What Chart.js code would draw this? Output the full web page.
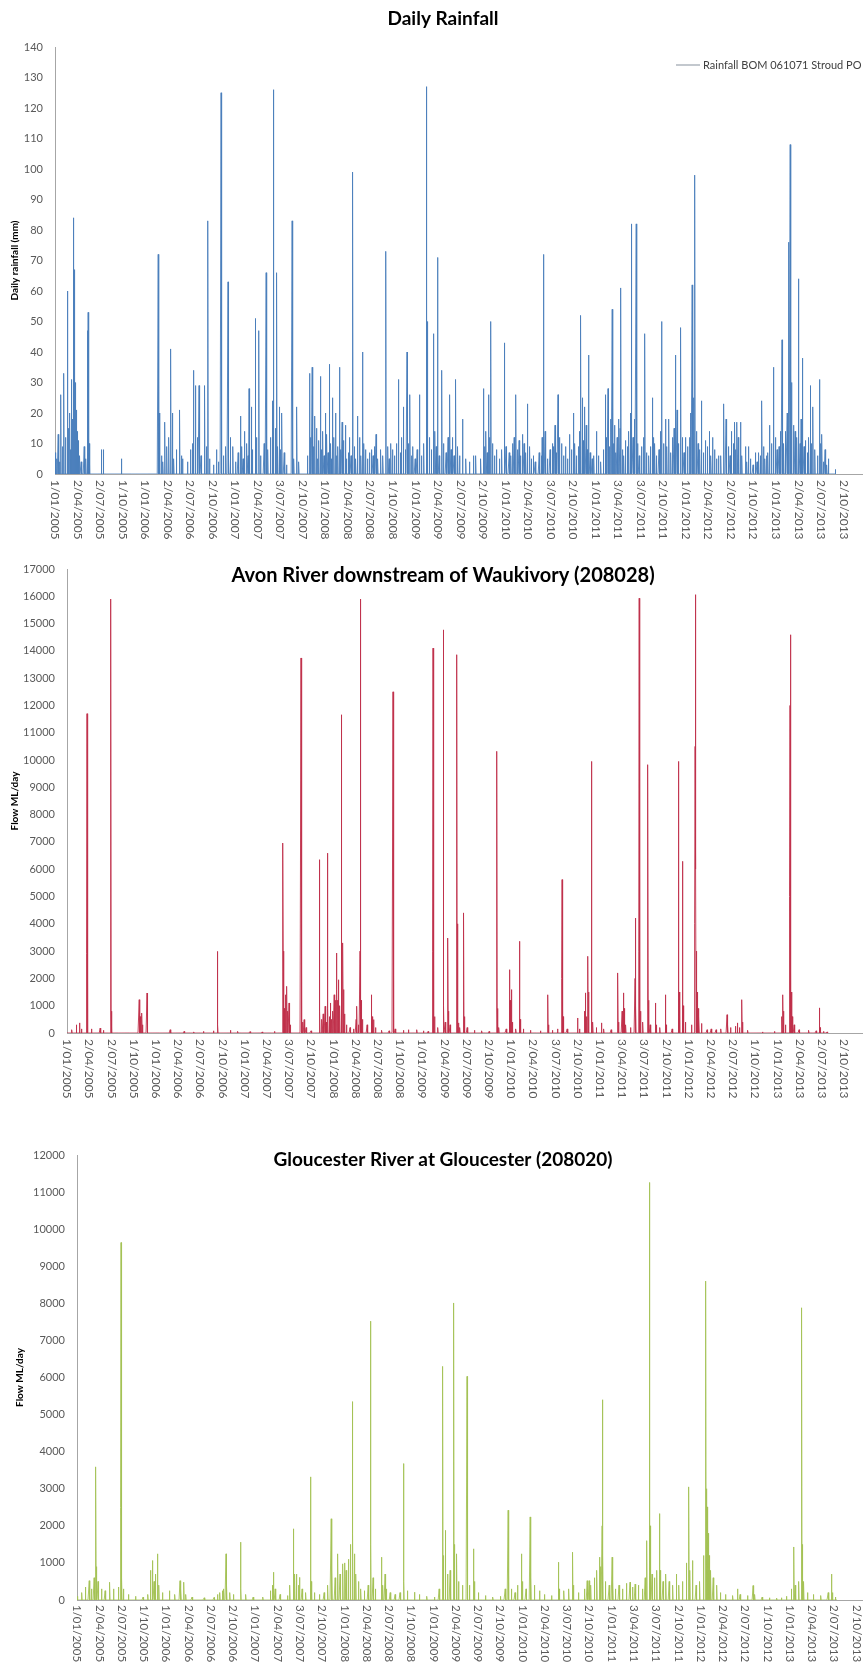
<!DOCTYPE html>
<html>
<head>
<meta charset="utf-8">
<script src="https://cdn.jsdelivr.net/npm/chart.js@4/dist/chart.umd.min.js"></script>
<style>
  html, body { margin: 0; padding: 0; background: #fff; }
  .box { position: absolute; left: 0; }
</style>
</head>
<body>
<div class="box" style="top:0"><canvas id="rainChart" width="865" height="550"></canvas></div>
<div class="box" style="top:550px"><canvas id="avonChart" width="865" height="560"></canvas></div>
<div class="box" style="top:1110px"><canvas id="glouChart" width="865" height="552"></canvas></div>
<script>
// axis labels, one every 91 days from 1/01/2005 (day 0)
const tickLabels = ['1/01/2005','2/04/2005','2/07/2005','1/10/2005','1/01/2006','2/04/2006','2/07/2006','2/10/2006',
  '1/01/2007','2/04/2007','3/07/2007','2/10/2007','1/01/2008','2/04/2008','2/07/2008','1/10/2008',
  '1/01/2009','2/04/2009','2/07/2009','2/10/2009','1/01/2010','2/04/2010','3/07/2010','2/10/2010',
  '1/01/2011','3/04/2011','3/07/2011','2/10/2011','1/01/2012','2/04/2012','2/07/2012','1/10/2012',
  '1/01/2013','2/04/2013','2/07/2013','2/10/2013'];
const labelStep = 91;

// daily rainfall, mm (day number from 1/01/2005); days not listed read as 0
const rainDays = [0,4,8,13,18,24,30,36,42,50,55,60,63,67,71,75,79,83,87,90,94,100,106,118,125,132,134,138,188,195,269,
  417,421,430,436,444,452,460,468,474,480,490,504,510,515,535,547,555,560,568,575,582,590,605,612,618,625,640,652,660,671,680,690,699,702,708,719,730,740,749,755,760,766,775,780,784,793,798,809,815,824,830,845,853,860,870,878,883,890,896,900,907,912,917,926,935,958,965,977,985,
  1020,1028,1033,1039,1045,1050,1056,1062,1066,1073,1078,1082,1087,1093,1098,1103,1109,1114,1117,1122,1127,1133,1138,1143,1149,1154,1160,1166,1173,1178,1185,1190,1196,1203,1210,1215,1223,1230,1236,1243,1248,1254,1262,1270,1278,1285,1290,1297,1304,1316,1325,1337,1345,1350,1357,1364,1372,1380,1387,1395,1400,1408,1415,1422,1428,1434,1440,1446,1455,1463,1472,1480,1490,1501,1505,1512,1520,1528,1535,1540,1546,1552,1563,1570,1580,1588,1595,1600,1606,1612,1619,1627,1635,1647,1660,1675,1690,1700,1720,1730,1736,1741,1746,1751,1756,1761,1768,1775,1784,1795,1805,1815,1822,1835,1842,1848,1855,1862,1868,1875,1881,1888,1895,1902,1909,1918,1925,1933,1940,1956,1965,1968,1973,1980,1990,2000,2009,2015,2020,2026,2032,2038,2047,2055,2063,2071,2079,2087,2094,2100,2107,2116,2120,2124,2130,2135,2140,2146,2150,2155,2162,2170,2177,2187,2195,2205,2215,2224,2229,2234,2240,2246,2251,2256,2261,2266,2271,2278,2283,2286,2292,2298,2305,2312,2318,2324,2329,2335,2340,2348,2353,2360,2370,2377,2383,2390,2399,2405,2413,2418,2423,2430,2440,2445,2450,2458,2466,2472,2480,2488,2495,2501,2507,2513,2519,2528,2535,2541,2547,2555,2563,2568,2574,2579,2585,2592,2598,2605,2612,2620,2628,2635,2644,2650,2657,2665,2672,2681,2690,2702,2711,2720,2727,2733,2740,2746,2750,2755,2760,2769,2775,2789,2795,2802,2810,2820,2829,2836,2843,2850,2856,2862,2868,2874,2880,2887,2895,2903,2910,2917,2925,2930,2937,2944,2950,2958,2964,2970,2976,2983,2990,2997,3004,3010,3014,3020,3026,3031,3040,3045,3051,3057,3062,3070,3080,3089,3094,3098,3105,3111,3118,3125,3152];
const rainMm = [7,3,5,13,4,26,9,33,12,60,15,20,8,31,18,84,67,30,21,14,11,6,4,9,5,47,53,10,8,8,5,
  72,20,6,4,17,9,12,41,20,5,8,21,6,5,4,8,10,34,29,12,29,6,29,9,83,5,3,8,4,125,6,9,63,5,12,9,4,7,19,9,5,14,10,6,28,22,8,51,12,47,6,10,66,8,12,24,126,15,66,9,22,8,20,7,3,83,5,22,4,
  6,33,12,35,9,19,15,5,11,32,8,14,6,20,13,7,36,10,5,25,12,20,6,9,35,8,17,11,16,5,7,12,6,99,9,5,19,12,6,40,10,8,5,7,8,6,9,13,5,8,6,73,9,5,10,8,6,10,31,7,12,22,8,40,10,26,6,9,5,8,26,6,10,127,50,12,8,46,14,9,71,6,34,10,7,12,26,8,12,6,31,9,6,18,5,4,6,6,5,28,9,14,7,26,12,50,10,6,8,5,8,43,9,7,6,10,12,26,8,11,6,13,10,7,23,9,5,6,4,7,6,12,72,14,5,8,10,9,16,7,26,12,10,6,9,5,13,8,20,10,6,9,14,52,25,11,22,16,8,39,7,5,6,14,6,4,8,26,12,28,9,18,54,10,16,7,12,18,15,61,8,6,11,9,14,20,82,12,18,82,10,6,9,12,46,7,6,9,25,12,10,6,8,14,50,10,18,9,18,7,12,15,39,21,10,48,12,7,12,9,12,20,62,25,98,14,10,8,24,7,11,9,14,6,12,8,5,6,6,23,18,9,6,14,10,17,8,17,12,17,6,9,4,9,5,3,7,4,7,6,24,9,5,6,7,16,10,35,12,8,9,14,44,10,14,20,76,108,30,16,14,12,64,10,18,38,9,11,7,12,29,10,22,8,6,31,10,13,4,8,3,5,1.5];

// Avon River daily flow, ML/day
const avonDays = [20,38,52,60,81,82,83,84,85,100,136,150,179,180,181,182,296,297,300,303,307,310,328,329,423,480,520,560,600,617,618,669,700,750,800,850,
  884,885,886,887,890,895,901,905,910,915,959,960,965,972,980,1000,1035,1036,1045,1050,1058,1062,1068,1069,1075,1079,1085,1090,1095,1100,1104,1106,1110,1113,1118,1124,1125,1128,1131,1134,1138,1145,1160,1175,1185,1188,1195,1201,1202,1203,1205,1210,1230,1247,1250,1257,1265,1290,1320,1336,1337,1345,1380,1400,1434,1460,1480,1499,1500,1501,1502,1503,1506,1520,1543,1544,1550,1561,1562,1570,1598,1600,1605,1610,1626,1628,1640,1670,1700,1730,1762,1763,1770,1800,1814,1816,1821,1825,1840,1855,1857,1870,1900,1940,1971,1973,1990,2010,2028,2029,2030,2033,2050,2093,2100,2122,2124,2130,2135,2137,2149,2150,2155,2170,2190,2200,2230,2258,2260,2275,2281,2283,2290,2310,2328,2329,2331,2344,2345,2346,2350,2360,2381,2382,2390,2411,2415,2430,2452,2455,2480,2505,2507,2509,2523,2525,2535,2560,2573,2574,2575,2576,2577,2579,2582,2586,2590,2600,2623,2640,2660,2680,2705,2708,2720,2740,2748,2755,2766,2768,2790,2850,2900,2930,2934,2936,2945,2962,2963,2964,2965,2966,2968,2972,2980,3000,3040,3070,3084,3086,3100,3115];
const avonFlow = [120,300,370,150,2900,11700,2900,800,300,150,180,100,600,15900,800,200,1220,900,600,500,730,300,1465,400,120,60,40,60,80,2990,300,100,60,50,40,60,
  2000,6960,3000,1200,900,1400,1710,800,1100,300,13740,1500,400,490,200,80,6350,800,500,700,980,400,6590,900,600,1100,500,800,1400,1200,2930,1600,1200,1950,1000,11660,2500,1800,3300,1590,700,300,200,150,500,980,300,3000,15900,4000,1200,500,300,1400,600,490,200,100,80,12500,600,150,100,120,120,80,60,3000,14100,10000,3500,1500,600,200,14770,1000,400,3480,800,300,13860,4000,370,200,4400,600,200,100,80,60,10320,900,200,150,2320,1200,1590,400,150,3360,500,150,100,80,1400,300,100,150,2000,5620,1500,600,150,550,150,800,1470,600,2810,1500,9950,1200,400,200,370,150,120,2200,400,800,1470,900,300,200,2000,4210,1000,3000,15930,3000,800,400,9830,1200,300,1100,300,200,1400,300,150,3000,9950,1500,6290,1000,400,300,4000,10500,16060,10560,6000,3000,1500,900,600,350,120,150,120,150,670,300,200,250,370,200,1220,400,100,40,60,600,1400,800,300,5000,12000,14590,10000,4000,1500,600,300,120,100,80,920,200,60,40];

// Gloucester River daily flow, ML/day
const glouDays = [0,20,35,50,60,70,76,77,78,86,100,115,134,150,170,179,180,181,183,190,210,240,270,290,300,308,315,320,329,335,350,379,400,421,425,437,445,470,520,560,575,584,595,600,609,612,625,640,668,670,690,720,760,790,800,804,810,830,860,870,884,890,898,905,909,920,935,955,957,970,990,1010,1025,1039,1042,1055,1066,1075,1087,1095,1100,1110,1118,1125,1127,1133,1140,1150,1160,1175,1190,1199,1200,1201,1210,1220,1244,1250,1259,1265,1280,1300,1320,1334,1336,1350,1380,1400,1430,1460,1480,1494,1495,1498,1506,1515,1525,1539,1540,1542,1552,1560,1575,1594,1596,1605,1621,1625,1640,1670,1700,1730,1750,1762,1764,1775,1790,1800,1816,1820,1835,1852,1855,1870,1890,1910,1940,1967,1970,1990,2010,2026,2030,2050,2075,2085,2093,2100,2115,2125,2135,2140,2146,2147,2149,2160,2175,2187,2190,2200,2215,2230,2245,2260,2270,2281,2295,2310,2322,2329,2339,2340,2342,2350,2360,2370,2380,2383,2395,2407,2420,2435,2449,2460,2475,2490,2501,2505,2516,2530,2545,2560,2569,2570,2572,2575,2579,2583,2590,2600,2615,2630,2650,2680,2700,2710,2740,2763,2770,2800,2830,2860,2880,2900,2920,2930,2935,2950,2961,2962,2964,2970,2985,3010,3040,3070,3083,3088,3100];
const glouFlow = [100,200,350,520,300,600,1970,3590,900,500,300,250,480,300,350,2500,9640,1500,600,300,150,100,80,150,800,1065,500,700,1245,400,200,250,150,520,300,480,150,80,60,70,150,200,250,300,1245,400,200,150,1560,300,150,80,80,250,400,750,300,150,120,400,1920,700,700,400,610,300,200,3320,500,200,150,200,400,2190,800,600,1245,700,975,1000,800,1100,1500,5350,1800,1245,700,500,300,250,400,3000,7520,1500,600,300,1155,400,700,300,200,150,200,3680,500,250,210,150,100,80,300,2000,6300,1200,1880,700,800,2000,8010,1500,1245,500,400,6030,800,400,1380,500,200,120,80,100,300,2420,600,300,200,400,1245,500,300,2240,600,400,250,150,120,1020,300,250,300,1290,400,200,300,520,520,400,600,800,1155,900,2000,5400,1200,500,400,1155,500,300,400,300,450,480,350,430,400,300,600,1600,4000,11260,2000,700,600,800,2330,800,500,700,500,400,700,400,500,1000,3050,800,1065,400,500,1200,4000,8600,3000,2510,1800,1200,800,600,400,200,150,120,300,150,120,390,150,80,60,50,60,100,300,1430,400,500,3000,7880,1500,500,200,150,120,200,700,200,80];

function dailySeries(days, values, length) {
  const v = new Array(length).fill(0);
  days.forEach((d, i) => { v[d] = values[i]; });
  return v.map((y, x) => ({x, y}));
}

Chart.defaults.font.family = 'Lato, "Open Sans", sans-serif';
Chart.defaults.color = '#595959';

// draws the rotated date labels, the overlay title and the small legend
const excelBits = {
  id: 'excelBits',
  afterDraw(chart, args, opts) {
    const {ctx, chartArea, scales: {x}} = chart;
    ctx.save();
    ctx.font = opts.labelSize + 'px Lato, sans-serif';
    ctx.fillStyle = '#595959';
    ctx.textAlign = 'left';
    ctx.textBaseline = 'middle';
    tickLabels.forEach((lab, i) => {
      const px = x.getPixelForValue(i * labelStep);
      ctx.save();
      ctx.translate(px, chartArea.bottom + opts.labelGap);
      ctx.rotate(Math.PI / 2);
      ctx.fillText(lab, 0, 0);
      ctx.restore();
    });
    ctx.font = 'bold ' + opts.titleSize + 'px Lato, sans-serif';
    ctx.fillStyle = '#000';
    ctx.textAlign = 'center';
    ctx.fillText(opts.title, opts.titleX, opts.titleY);
    if (opts.legend) {
      const ds = chart.data.datasets[0];
      const lg = opts.legend;
      ctx.strokeStyle = '#9aa3ad';
      ctx.lineWidth = 1.2;
      ctx.beginPath();
      ctx.moveTo(lg.x, lg.y);
      ctx.lineTo(lg.x + 24, lg.y);
      ctx.stroke();
      ctx.font = '11px Lato, sans-serif';
      ctx.fillStyle = '#404040';
      ctx.textAlign = 'left';
      ctx.fillText(ds.label, lg.x + 27, lg.y);
    }
    ctx.restore();
  }
};

function makeChart(id, cfg) {
  new Chart(document.getElementById(id), {
    type: 'line',
    data: {
      datasets: [{
        label: cfg.label,
        data: dailySeries(cfg.days, cfg.values, cfg.length),
        borderColor: cfg.color,
        backgroundColor: cfg.color,
        borderWidth: 0.9,
        pointRadius: 0,
        tension: 0
      }]
    },
    options: {
      responsive: false,
      animation: false,
      parsing: false,
      normalized: true,
      layout: { padding: { left: 0, right: 3, top: cfg.top, bottom: 0 } },
      plugins: {
        legend: { display: false },
        tooltip: { enabled: false },
        excelBits: { title: cfg.title, titleSize: cfg.titleSize, titleX: 443, titleY: cfg.titleY,
          labelGap: cfg.labelGap, labelSize: cfg.labelSize, legend: cfg.legend }
      },
      scales: {
        x: {
          type: 'linear',
          min: 0,
          max: cfg.xMax,
          ticks: { display: false },
          grid: { display: false, drawTicks: false },
          border: { color: '#a6a6a6' },
          afterFit(s) { s.height = cfg.xHeight; }
        },
        y: {
          min: 0,
          max: cfg.yMax,
          ticks: { stepSize: cfg.yStep, padding: 12, font: { size: 11 }, callback: v => String(v) },
          grid: { display: false, drawTicks: false },
          border: { color: '#a6a6a6' },
          title: { display: true, text: cfg.yTitle, color: '#000', font: { size: 10, weight: 'bold' }, padding: { top: cfg.yTitlePad, bottom: 0 } },
          afterFit(s) { s.width = cfg.yWidth; }
        }
      }
    },
    plugins: [excelBits]
  });
}

makeChart('rainChart', {
  label: 'Rainfall BOM 061071 Stroud PO', legend: { x: 676, y: 65 },
  title: 'Daily Rainfall', titleSize: 19, titleY: 19,
  days: rainDays, values: rainMm, length: 3160, color: '#4a7ebb',
  top: 47, xHeight: 76, labelGap: 6, labelSize: 12, xMax: 3260, yMax: 140, yStep: 10, yWidth: 55,
  yTitle: 'Daily rainfall (mm)', yTitlePad: 9
});
makeChart('avonChart', {
  label: 'Avon River downstream of Waukivory (208028)', legend: null,
  title: 'Avon River downstream of Waukivory (208028)', titleSize: 20, titleY: 26,
  days: avonDays, values: avonFlow, length: 3120, color: '#c0304b',
  top: 19, xHeight: 77, labelGap: 6, labelSize: 12, xMax: 3258, yMax: 17000, yStep: 1000, yWidth: 67,
  yTitle: 'Flow ML/day', yTitlePad: 9
});
makeChart('glouChart', {
  label: 'Gloucester River at Gloucester (208020)', legend: null,
  title: 'Gloucester River at Gloucester (208020)', titleSize: 19, titleY: 50,
  days: glouDays, values: glouFlow, length: 3110, color: '#a4c255',
  top: 45, xHeight: 62, labelGap: 5, labelSize: 11.5, xMax: 3208, yMax: 12000, yStep: 1000, yWidth: 77,
  yTitle: 'Flow ML/day', yTitlePad: 14
});
</script>
</body>
</html>
